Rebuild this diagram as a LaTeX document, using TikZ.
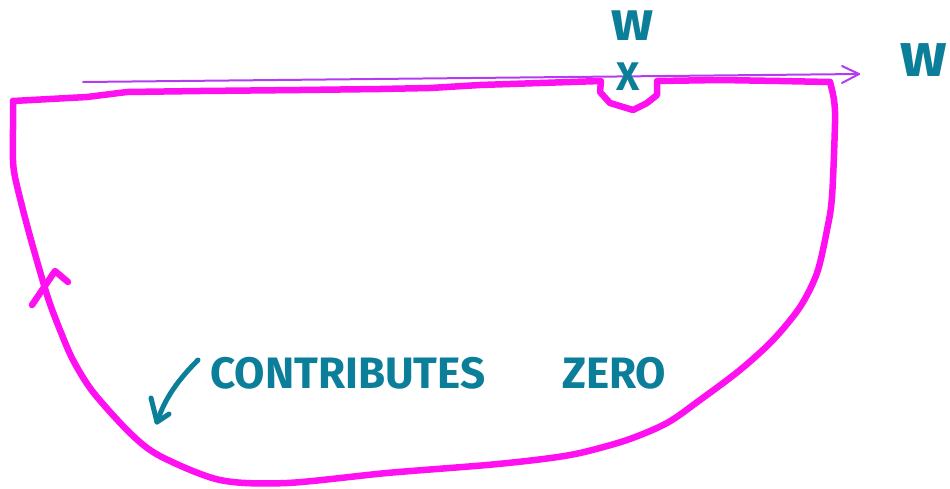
\documentclass[tikz,border=0pt]{standalone}
\usepackage{fontspec}
\setmainfont{Fira Sans}
\definecolor{mag}{HTML}{FF10F0}
\definecolor{axis}{HTML}{B43CF0}
\definecolor{teal}{HTML}{0B7E99}
\begin{document}
\begin{tikzpicture}[x=1pt,y=-1pt,
  contour/.style={draw=mag,line width=6.5pt,line cap=round,line join=round},
  axisline/.style={draw=axis,line width=2pt,line cap=round,line join=round},
  pen/.style={draw=teal,line width=5pt,line cap=round,line join=round},
  lbl/.style={text=teal,font=\bfseries,inner sep=0pt}]
\useasboundingbox (0,0) rectangle (950,488);
% axis
\coordinate (a0) at (83,82);
\coordinate (a1) at (859,74);
\coordinate (ah1) at (842,66);
\coordinate (ah2) at (842,83);
\draw[axisline] (a0) -- (a1);
\draw[axisline] (ah1) -- (a1) -- (ah2);
% contour top edge with indentation
\draw[contour] (13,101) -- (50,99) -- (87,97) -- (127,92) -- (200,91) -- (300,90) -- (380,89)
  -- (430,88) -- (480,85) -- (540,83) -- (601,81) -- (600,92) -- (610,103) -- (633,110)
  -- (647,103) -- (657,95) -- (657,81) -- (720,80) -- (780,81) -- (830,82);
% contour big arc
\draw[contour] plot[smooth,tension=0.5] coordinates {(830,82) (834,100) (835,123) (832,197) (827,230)
  (817,273) (800,307) (773,340) (740,370) (700,400) (667,423) (627,440) (580,453) (543,459)
  (487,465) (387,473) (287,483) (220,480) (160,456) (130,433) (93,392) (73,360) (60,330)
  (48,298) (33,247) (23,210) (15,177) (13,160) (13,130) (13,101)};
% direction arrowhead on left side
\coordinate (d0) at (32,305);
\coordinate (d1) at (55,271);
\coordinate (d2) at (68,282);
\draw[contour] (d0) -- (d1) -- (d2);
% labels
\node[lbl,font=\bfseries\fontsize{56}{56}\selectfont] (wtop) at (632,26) {w};
\node[lbl,font=\bfseries\fontsize{40}{40}\selectfont] (xmark) at (628,77) {X};
\node[lbl,font=\bfseries\fontsize{62}{62}\selectfont] (wright) at (924,60) {w};
\node[lbl,font=\bfseries\fontsize{44}{44}\selectfont,anchor=base west] (contrib) at (210,388) {CONTRIBUTES};
\node[lbl,font=\bfseries\fontsize{44}{44}\selectfont,anchor=base west] (zero) at (562,388) {ZERO};
% pointer arrow
\coordinate (p0) at (198,360);
\coordinate (p1) at (157,422);
\coordinate (ph1) at (151,398);
\coordinate (ph2) at (169,414);
\draw[pen] (p0) .. controls (178,380) and (165,398) .. (p1);
\draw[pen] (ph1) -- (p1) -- (ph2);
\end{tikzpicture}
\end{document}
